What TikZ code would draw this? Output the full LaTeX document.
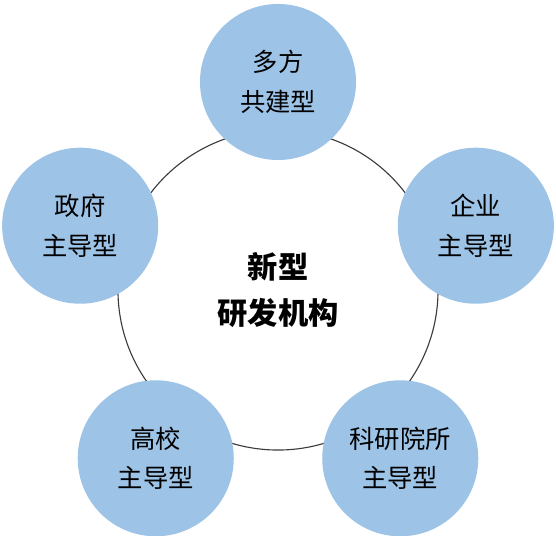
\documentclass[tikz,border=0pt]{standalone}
\usepackage{fontspec}
\setmainfont{Noto Sans CJK SC}
\usetikzlibrary{positioning}
\definecolor{bubbleBlue}{RGB}{157,195,230}
\definecolor{ringGray}{RGB}{60,60,60}

\begin{document}
\begin{tikzpicture}[x=0.025cm, y=0.025cm,
    bubble/.style={circle, fill=bubbleBlue, minimum size=3.9cm, inner sep=0pt,
                   align=center, font=\fontsize{18}{28}\selectfont}]
  \useasboundingbox (-278,-246) rectangle (278,290);

  % Outer ring with the core label
  \node[circle, draw=ringGray, line width=0.8pt, minimum size=8cm, inner sep=0pt,
        align=center, font=\fontsize{21.5}{33}\selectfont\bfseries] (core) at (0,0)
    {新型\\研发机构};

  % Five types around the ring
  \foreach \ang/\name/\lab in {
    90/multi/多方\\共建型, 18/firm/企业\\主导型, 162/gov/政府\\主导型,
    234/univ/高校\\主导型, 306/inst/科研院所\\主导型} {
    \node[bubble] (\name) at (\ang:208) {\lab};
  }
\end{tikzpicture}
\end{document}
